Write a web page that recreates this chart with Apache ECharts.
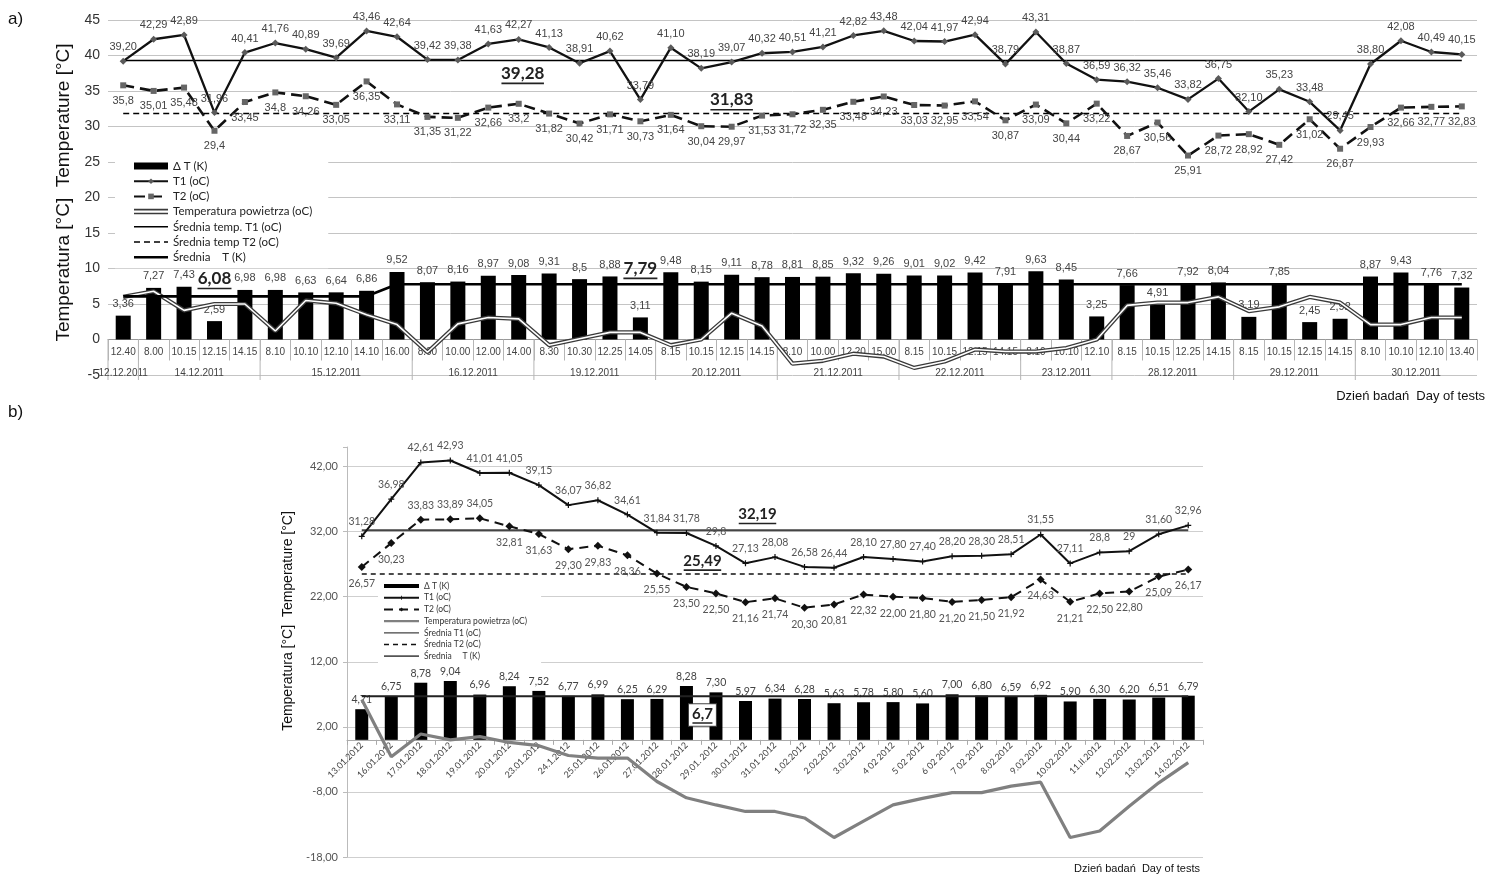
<!DOCTYPE html>
<html>
<head>
<meta charset="utf-8">
<title>Temperatura T1 / T2</title>
<script src="https://cdn.jsdelivr.net/npm/echarts@6/dist/echarts.min.js"></script>
<style>
    html, body { margin: 0; padding: 0; background: #fff; }
    #main { width: 1506px; height: 880px; }
</style>
</head>
<body>
<div id="main"></div>
<script>
// ---------- a) grudzień 2011 ----------
var timesA = ['12.40', '8.00', '10.15', '12.15', '14.15', '8.10', '10.10', '12.10', '14.10', '16.00',
    '8.00', '10.00', '12.00', '14.00', '8.30', '10.30', '12.25', '14.05', '8.15', '10.15', '12.15', '14.15',
    '8.10', '10.00', '12.20', '15.00', '8.15', '10.15', '12.15', '14.15', '8.10', '10.10', '12.10',
    '8.15', '10.15', '12.25', '14.15', '8.15', '10.15', '12.15', '14.15', '8.10', '10.10', '12.10', '13.40'];
var datesA = ['12.12.2011', '14.12.2011', '15.12.2011', '16.12.2011', '19.12.2011', '20.12.2011',
    '21.12.2011', '22.12.2011', '23.12.2011', '28.12.2011', '29.12.2011', '30.12.2011'];
var dateCountsA = [1, 4, 5, 4, 4, 4, 4, 4, 3, 4, 4, 4];
var t1A = ['39.20', '42.29', '42.89', '31.96', '40.41', '41.76', '40.89', '39.69', '43.46', '42.64', '39.42', '39.38',
    '41.63', '42.27', '41.13', '38.91', '40.62', '33.79', '41.10', '38.19', '39.07', '40.32', '40.51', '41.21',
    '42.82', '43.48', '42.04', '41.97', '42.94', '38.79', '43.31', '38.87', '36.59', '36.32', '35.46', '33.82',
    '36.75', '32.10', '35.23', '33.48', '29.45', '38.80', '42.08', '40.49', '40.15'];
var t2A = ['35.8', '35.01', '35.48', '29.4', '33.45', '34.8', '34.26', '33.05', '36.35', '33.11', '31.35', '31.22',
    '32.66', '33.2', '31.82', '30.42', '31.71', '30.73', '31.64', '30.04', '29.97', '31.53', '31.72', '32.35',
    '33.48', '34.23', '33.03', '32.95', '33.54', '30.87', '33.09', '30.44', '33.22', '28.67', '30.56', '25.91',
    '28.72', '28.92', '27.42', '31.02', '26.87', '29.93', '32.66', '32.77', '32.83'];
var dtA = ['3.36', '7.27', '7.43', '2.59', '6.98', '6.98', '6.63', '6.64', '6.86', '9.52', '8.07', '8.16',
    '8.97', '9.08', '9.31', '8.5', '8.88', '3.11', '9.48', '8.15', '9.11', '8.78', '8.81', '8.85',
    '9.32', '9.26', '9.01', '9.02', '9.42', '7.91', '9.63', '8.45', '3.25', '7.66', '4.91', '7.92',
    '8.04', '3.19', '7.85', '2.45', '2.92', '8.87', '9.43', '7.76', '7.32'];
var airA = [6.0, 6.8, 4.1, 5.0, 5.0, 1.2, 5.5, 5.1, 3.5, 2.1, -1.8, 2.2, 3.1, 2.9, -0.8, 0.1, 1.0, 1.0,
    -0.8, 0.0, 3.7, 1.9, -3.4, -3.0, -2.0, -2.4, -4.0, -3.1, -1.4, -1.7, -1.7, -1.2, 0.0,
    4.8, 5.2, 5.2, 6.0, 4.0, 4.6, 6.0, 5.2, 2.1, 2.1, 3.1, 3.1];
var meanT1A = 39.28;
var meanT2A = 31.83;
var meanDtStepsA = [6.08, 7.79];   // średnia dla 12-15.12 i dla reszty
var meanDtSplitA = 9;
var minA = -5, maxA = 45, stepA = 5;

// ---------- b) styczeń / luty 2012 ----------
var daysB = ['13.01.2012', '16.01.2012', '17.01.2012', '18.01.2012', '19.01.2012', '20.01.2012', '23.01.2012',
    '24.1.2012', '25.01.2012', '26.01.2012', '27.01.2012', '28.01 2012', '29.01. 2012', '30.01.2012', '31.01 2012',
    '1.02.2012', '2.02.2012', '3.02.2012', '4 02 2012', '5 02 2012', '6 02 2012', '7 02 2012', '8.02.2012',
    '9.02.2012', '10.02.2012', '11.II.2012', '12.02.2012', '13.02.2012', '14.02.2012'];
var t1B = ['31.28', '36.98', '42.61', '42.93', '41.01', '41.05', '39.15', '36.07', '36.82', '34.61', '31.84', '31.78',
    '29.8', '27.13', '28.08', '26.58', '26.44', '28.10', '27.80', '27.40', '28.20', '28.30', '28.51', '31.55',
    '27.11', '28.8', '29', '31.60', '32.96'];
var t2B = ['26.57', '30.23', '33.83', '33.89', '34.05', '32.81', '31.63', '29.30', '29.83', '28.36', '25.55', '23.50',
    '22.50', '21.16', '21.74', '20.30', '20.81', '22.32', '22.00', '21.80', '21.20', '21.50', '21.92', '24.63',
    '21.21', '22.50', '22.80', '25.09', '26.17'];
var dtB = ['4.71', '6.75', '8.78', '9.04', '6.96', '8.24', '7.52', '6.77', '6.99', '6.25', '6.29', '8.28', '7.30',
    '5.97', '6.34', '6.28', '5.63', '5.78', '5.80', '5.60', '7.00', '6.80', '6.59', '6.92', '5.90', '6.30',
    '6.20', '6.51', '6.79'];
var airB = [6.2, -2.6, 0.9, 0.0, 0.5, -0.4, -0.9, -2.4, -2.8, -2.8, -6.4, -8.9, -10.0, -11.0, -11.0, -12.0,
    -15.0, -12.5, -10.0, -9.0, -8.1, -8.1, -7.1, -6.5, -15.0, -14.0, -10.2, -6.6, -3.5];
var meanT1B = 32.19;
var meanT2B = 25.49;
var meanDtB = 6.7;
var ticksB = [-18, -8, 2, 12, 22, 32, 42];
var minB = -18, maxB = 45, stepB = 10;
var t2TopB = [2, 3, 4];   // etykiety T2 nad punktem

// ---------- pomocnicze ----------
var H = 880;
var gridA = { left: 108, right: 29, top: 20, bottom: 505 };
var gridB = { left: 347, right: 303, top: 447, bottom: 23 };
// oś kategorii przesunięta do poziomu 0
var shiftA = -(0 - minA) / (maxA - minA) * (H - gridA.top - gridA.bottom);
var shiftB = -(0 - minB) / (maxB - minB) * (H - gridB.top - gridB.bottom);

var fontA = "'Liberation Sans Narrow', 'Liberation Sans', Arial, sans-serif";
var fontB = "Lato, 'Open Sans', sans-serif";
function comma(s) { return String(s).replace('.', ','); }
function labelFrom(arr) { return function (p) { return comma(arr[p.dataIndex]); }; }
function constLine(n, v) { var out = []; for (var i = 0; i < n; i++) out.push(v); return out; }

// ikona legendy: pozioma kreska (ciągła lub przerywana) w ramce w x h
function lineIcon(w, h, t, dash, gap) {
    var y0 = (h - t) / 2, y1 = y0 + t;
    var p = 'path://M0,0H' + w + 'V0.01H0Z M0,' + (h - 0.01) + 'H' + w + 'V' + h + 'H0Z';
    if (!dash) {
        p += ' M0,' + y0 + 'H' + w + 'V' + y1 + 'H0Z';
    } else {
        for (var x = 0; x < w; x += dash + gap) {
            p += ' M' + x + ',' + y0 + 'H' + Math.min(x + dash, w) + 'V' + y1 + 'H' + x + 'Z';
        }
    }
    return p;
}
var hollowIcon = 'path://M0,0L34,0L34,5.5L0,5.5Z M0,1.7L0,3.8L34,3.8L34,1.7Z';

var meanDtA = [];
for (var i = 0; i < timesA.length; i++) meanDtA.push(i < meanDtSplitA ? meanDtStepsA[0] : meanDtStepsA[1]);

var dateGroupsA = [];
var start = 0;
for (var j = 0; j < dateCountsA.length; j++) { dateGroupsA.push([start, dateCountsA[j]]); start += dateCountsA[j]; }

// podkreślona, pogrubiona etykieta średniej
function meanLabel(v, size, pos, dist, offset) {
    var txt = comma(v);
    return {
        show: true, position: pos, distance: dist, offset: offset || [0, 0],
        formatter: '{t|' + txt + '}\n{u|}',
        rich: {
            t: { fontFamily: 'Lato', fontWeight: 'bold', fontSize: size, color: '#222', lineHeight: size + 2, align: 'center' },
            u: { width: txt.length * size * 0.5, height: 1.6, backgroundColor: '#222', align: 'center' }
        }
    };
}

var myChart = echarts.init(document.getElementById('main'));

var option = {
    animation: false,
    backgroundColor: '#fff',
    textStyle: { fontFamily: fontA },
    grid: [gridA, gridB],
    xAxis: [{
        type: 'category', gridIndex: 0, data: timesA, offset: shiftA,
        axisLine: { onZero: false, lineStyle: { color: '#999' } },
        axisTick: { show: true, interval: 0, length: 21, lineStyle: { color: '#b5b5b5' } },
        axisLabel: { interval: 0, fontSize: 10, color: '#444', margin: 8, fontFamily: "'Liberation Sans', Arial" }
    }, {
        type: 'category', gridIndex: 1, data: daysB, offset: shiftB,
        axisLine: { onZero: false, lineStyle: { color: '#aaa' } },
        axisTick: { show: true, interval: 0, length: 5, lineStyle: { color: '#aaa' } },
        axisLabel: { interval: 0, rotate: 45, fontSize: 9, color: '#444', margin: 4, fontFamily: fontB }
    }],
    yAxis: [{
        type: 'value', gridIndex: 0, min: minA, max: maxA, interval: stepA,
        name: 'Temperatura [°C]  Temperature [°C]', nameLocation: 'middle', nameGap: 29,
        nameTextStyle: { fontSize: 19, color: '#111', fontFamily: "'Liberation Sans', Arial", padding: [0, 0, 0, 10] },
        axisLine: { show: false }, axisTick: { show: false },
        axisLabel: { fontSize: 14, color: '#333', margin: 8, fontFamily: "'Liberation Sans', Arial" },
        splitLine: { lineStyle: { color: '#c4c4c4' } }
    }, {
        type: 'value', gridIndex: 1, min: minB, max: maxB, interval: stepB,
        name: 'Temperatura [°C]  Temperature [°C]', nameLocation: 'middle', nameGap: 45,
        nameTextStyle: { fontSize: 14, color: '#111', fontFamily: "'Liberation Sans', Arial", padding: [0, 0, 0, 62] },
        axisLine: { show: true, lineStyle: { color: '#bbb' } },
        axisTick: { show: true, length: 4, lineStyle: { color: '#bbb' } },
        axisLabel: {
            fontSize: 11, color: '#555', margin: 9, fontFamily: fontB,
            formatter: function (v) { return ticksB.indexOf(v) >= 0 ? v.toFixed(2).replace('.', ',') : ''; }
        },
        splitLine: { lineStyle: { color: ['#cfcfcf', '#cfcfcf', '#cfcfcf', '#cfcfcf', '#cfcfcf', '#cfcfcf', '#cfcfcf', 'transparent'] } }
    }],
    legend: [{
        data: [{ name: 'Δ T (K)', icon: 'rect' }, 'T1 (oC)', 'T2 (oC)',
            { name: 'Temperatura powietrza (oC)', icon: hollowIcon },
            { name: 'Średnia temp. T1 (oC)', icon: lineIcon(34, 7, 1.5) },
            { name: 'Średnia temp T2 (oC)', icon: lineIcon(34, 7, 1.5, 6, 4) },
            { name: 'Średnia    T (K)', icon: lineIcon(34, 7, 2.6) }],
        orient: 'vertical', left: 115, top: 158, selectedMode: false,
        itemWidth: 34, itemHeight: 7, itemGap: 3.2,
        padding: [2, 16, 5, 18], backgroundColor: '#fff',
        textStyle: { fontFamily: 'Lato', fontSize: 11.5, color: '#222', lineHeight: 12 }
    }, {
        data: [{ name: 'Δ T (K) ', icon: lineIcon(35, 5, 4) }, 'T1 (oC) ', 'T2 (oC) ',
            { name: 'Temperatura powietrza (oC) ', icon: lineIcon(35, 5, 2.4) },
            { name: 'Średnia T1 (oC)', icon: lineIcon(35, 5, 1.2) },
            { name: 'Średnia T2 (oC)', icon: lineIcon(35, 5, 1.3, 5, 4) },
            { name: 'Średnia     T (K) ', icon: lineIcon(35, 5, 1.8) }],
        orient: 'vertical', left: 378, top: 580, selectedMode: false,
        itemWidth: 35, itemHeight: 5, itemGap: 1.7,
        padding: [1, 12, 3, 5], backgroundColor: '#fff',
        textStyle: { fontFamily: 'Lato', fontSize: 8.5, color: '#333', lineHeight: 10 }
    }],
    graphic: [
        { type: 'text', left: 8, top: 11, style: { text: 'a)', font: '17px "Liberation Sans", Arial', fill: '#111' } },
        { type: 'text', left: 8, top: 404, style: { text: 'b)', font: '17px "Liberation Sans", Arial', fill: '#111' } },
        { type: 'text', right: 21, top: 390, style: { text: 'Dzień badań  Day of tests', font: '13px "Liberation Sans", Arial', fill: '#111' } },
        { type: 'text', right: 306, top: 863, style: { text: 'Dzień badań  Day of tests', font: '11px "Liberation Sans", Arial', fill: '#111' } }
    ],
    series: [
        // ----- panel a -----
        {
            name: 'Δ T (K)', type: 'bar', xAxisIndex: 0, yAxisIndex: 0, data: dtA, barWidth: 15,
            itemStyle: { color: '#000' }, z: 2,
            label: { show: true, position: 'top', distance: 6, fontSize: 11, color: '#444', fontFamily: fontA, formatter: labelFrom(dtA) }
        },
        {
            name: 'daty-a', type: 'custom', xAxisIndex: 0, yAxisIndex: 0, data: dateGroupsA, silent: true, z: 1,
            renderItem: function (params, api) {
                var s = api.value(0), n = api.value(1);
                var bw = api.size([1, 0])[0];
                var a = api.coord([s, 0]), b = api.coord([s + n - 1, 0]);
                var yb = api.coord([s, minA])[1];
                var left = a[0] - bw / 2, right = b[0] + bw / 2;
                return {
                    type: 'group',
                    children: [
                        { type: 'line', shape: { x1: left, y1: a[1], x2: left, y2: yb + 5 }, style: { stroke: '#b5b5b5', lineWidth: 1 } },
                        {
                            type: 'text',
                            style: {
                                text: datesA[params.dataIndex], x: (left + right) / 2, y: yb - 2,
                                align: 'center', verticalAlign: 'middle', font: '10px "Liberation Sans", Arial', fill: '#444'
                            }
                        }
                    ]
                };
            }
        },
        {
            name: 'Temperatura powietrza (oC)', type: 'line', xAxisIndex: 0, yAxisIndex: 0, data: airA,
            symbol: 'none', z: 3, itemStyle: { color: '#3a3a3a' }, lineStyle: { color: '#3a3a3a', width: 4.2 }
        },
        {
            name: 'powietrze-a-srodek', type: 'line', xAxisIndex: 0, yAxisIndex: 0, data: airA,
            symbol: 'none', z: 3, lineStyle: { color: '#fff', width: 1.6 }
        },
        {
            name: 'Średnia    T (K)', type: 'line', xAxisIndex: 0, yAxisIndex: 0, data: meanDtA,
            symbol: 'none', z: 4, itemStyle: { color: '#000' }, lineStyle: { color: '#000', width: 2.6 },
            markPoint: {
                symbol: 'circle', symbolSize: 0, silent: true,
                data: [
                    { coord: [3, meanDtStepsA[0]], label: meanLabel(meanDtStepsA[0], 17, 'top', 7) },
                    { coord: [17, meanDtStepsA[1]], label: meanLabel(meanDtStepsA[1], 17, 'top', 5) }
                ]
            }
        },
        {
            name: 'Średnia temp. T1 (oC)', type: 'line', xAxisIndex: 0, yAxisIndex: 0, data: constLine(timesA.length, meanT1A),
            symbol: 'none', z: 4, itemStyle: { color: '#000' }, lineStyle: { color: '#000', width: 1.5 },
            markPoint: {
                symbol: 'circle', symbolSize: 0, silent: true,
                data: [{ coord: [13, meanT1A], label: meanLabel(meanT1A, 17, 'bottom', 3, [4, 0]) }]
            }
        },
        {
            name: 'Średnia temp T2 (oC)', type: 'line', xAxisIndex: 0, yAxisIndex: 0, data: constLine(timesA.length, meanT2A),
            symbol: 'none', z: 4, itemStyle: { color: '#000' }, lineStyle: { color: '#000', width: 1.5, type: [6, 4] },
            markPoint: {
                symbol: 'circle', symbolSize: 0, silent: true,
                data: [{ coord: [20, meanT2A], label: meanLabel(meanT2A, 17, 'top', 3) }]
            }
        },
        {
            name: 'T1 (oC)', type: 'line', xAxisIndex: 0, yAxisIndex: 0, data: t1A, z: 5,
            symbol: 'diamond', symbolSize: 7, itemStyle: { color: '#5a5a5a' },
            lineStyle: { color: '#111', width: 2.3 },
            label: { show: true, position: 'top', distance: 5, fontSize: 11, color: '#444', fontFamily: fontA, formatter: labelFrom(t1A) }
        },
        {
            name: 'T2 (oC)', type: 'line', xAxisIndex: 0, yAxisIndex: 0, data: t2A, z: 5,
            symbol: 'rect', symbolSize: 6, itemStyle: { color: '#666' },
            lineStyle: { color: '#111', width: 2.6, type: [11, 6] },
            label: { show: true, position: 'bottom', distance: 7, fontSize: 11, color: '#444', fontFamily: fontA, formatter: labelFrom(t2A) }
        },

        // ----- panel b -----
        {
            name: 'Δ T (K) ', type: 'bar', xAxisIndex: 1, yAxisIndex: 1, data: dtB, barWidth: 13,
            itemStyle: { color: '#000' }, z: 2,
            label: { show: true, position: 'top', distance: 4, fontSize: 10.5, color: '#444', fontFamily: fontB, formatter: labelFrom(dtB) }
        },
        {
            name: 'Temperatura powietrza (oC) ', type: 'line', xAxisIndex: 1, yAxisIndex: 1, data: airB,
            symbol: 'none', z: 3, itemStyle: { color: '#808080' }, lineStyle: { color: '#808080', width: 3.2 }
        },
        {
            name: 'Średnia     T (K) ', type: 'line', xAxisIndex: 1, yAxisIndex: 1, data: constLine(daysB.length, meanDtB),
            symbol: 'none', z: 4, itemStyle: { color: '#555' }, lineStyle: { color: '#222', width: 1.8 },
            markPoint: {
                symbol: 'circle', symbolSize: 0, silent: true,
                data: [{
                    coord: [11, meanDtB],
                    label: {
                        show: true, position: 'bottom', distance: 8, offset: [16, 0],
                        formatter: '{t|' + comma(meanDtB) + '}\n{u|}',
                        backgroundColor: '#fff', borderColor: '#444', borderWidth: 1, padding: [2, 3, 2, 3],
                        rich: {
                            t: { fontFamily: 'Lato', fontWeight: 'bold', fontSize: 15, color: '#222', lineHeight: 16, align: 'center' },
                            u: { width: 20, height: 1.5, backgroundColor: '#222', align: 'center' }
                        }
                    }
                }]
            }
        },
        {
            name: 'Średnia T1 (oC)', type: 'line', xAxisIndex: 1, yAxisIndex: 1, data: constLine(daysB.length, meanT1B),
            symbol: 'none', z: 4, itemStyle: { color: '#444' }, lineStyle: { color: '#444', width: 2 },
            markPoint: {
                symbol: 'circle', symbolSize: 0, silent: true,
                data: [{ coord: [13, meanT1B], label: meanLabel(meanT1B, 15, 'top', 6, [12, 0]) }]
            }
        },
        {
            name: 'Średnia T2 (oC)', type: 'line', xAxisIndex: 1, yAxisIndex: 1, data: constLine(daysB.length, meanT2B),
            symbol: 'none', z: 4, itemStyle: { color: '#111' }, lineStyle: { color: '#111', width: 1.5, type: [5, 4] },
            markPoint: {
                symbol: 'circle', symbolSize: 0, silent: true,
                data: [{ coord: [11, meanT2B], label: meanLabel(meanT2B, 15, 'top', 3, [16, 0]) }]
            }
        },
        {
            name: 'T1 (oC) ', type: 'line', xAxisIndex: 1, yAxisIndex: 1, data: t1B, z: 5,
            symbol: 'path://M4,0H6V4H10V6H6V10H4V6H0V4H4Z', symbolSize: 6, itemStyle: { color: '#111' },
            lineStyle: { color: '#111', width: 2 },
            label: { show: true, position: 'top', distance: 6, fontSize: 10.5, color: '#555', fontFamily: fontB, formatter: labelFrom(t1B) }
        },
        {
            name: 'T2 (oC) ', type: 'line', xAxisIndex: 1, yAxisIndex: 1, z: 5,
            data: t2B.map(function (v, k) {
                return t2TopB.indexOf(k) >= 0 ? { value: v, label: { position: 'top', distance: 5 } } : v;
            }),
            symbol: 'diamond', symbolSize: 8, itemStyle: { color: '#111' },
            lineStyle: { color: '#111', width: 2, type: [9, 6] },
            label: { show: true, position: 'bottom', distance: 7, fontSize: 10.5, color: '#555', fontFamily: fontB, formatter: labelFrom(t2B) }
        }
    ]
};

myChart.setOption(option);
</script>
</body>
</html>
